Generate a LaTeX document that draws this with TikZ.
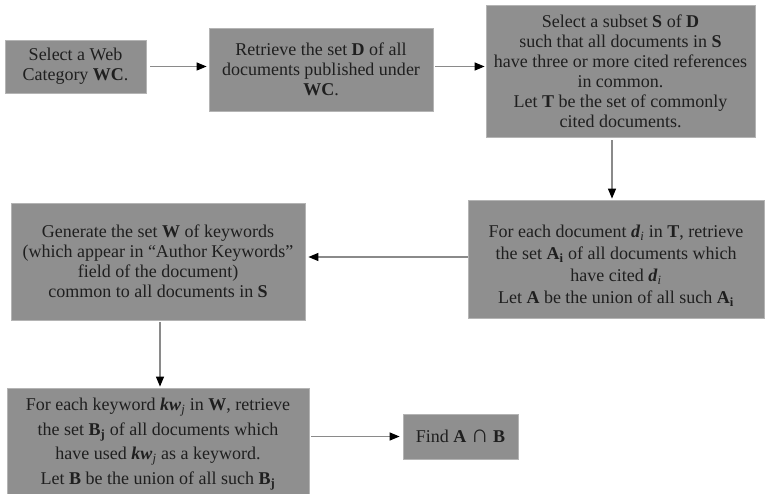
\documentclass[tikz,border=0pt]{standalone}
\usepackage{fontspec}
\setmainfont{Liberation Serif}
\usetikzlibrary{arrows.meta}
\definecolor{boxfill}{HTML}{8F8F8F}
\definecolor{boxline}{HTML}{B4B4B4}
\definecolor{arrowline}{HTML}{8A8A8A}
\newcommand{\lowidx}[1]{\textsubscript{#1}}
\tikzset{
  stepbox/.style={draw=boxline, line width=0.8pt, fill=boxfill, align=center,
    inner sep=0pt, text=black!88, font=\fontsize{18}{20}\selectfont},
  flow/.style={draw=arrowline, line width=1.2pt,
    -{Triangle[length=10pt,width=8pt,color=black]}}
}
\begin{document}
\begin{tikzpicture}[x=1pt,y=1pt]
\useasboundingbox (0,0) rectangle (765,-494);

\node[stepbox, minimum width=141pt, minimum height=53pt] (wc) at (75.5,-66.5)
  {Select a Web\\ Category \textbf{WC}.};
\node[stepbox, minimum width=224pt, minimum height=83pt] (setD) at (321,-69.5)
  {Retrieve the set \textbf{D} of all\\ documents published under\\ \textbf{WC}.};
\node[stepbox, minimum width=269pt, minimum height=132pt] (subS) at (620.5,-71)
  {Select a subset \textbf{S} of \textbf{D}\\ such that all documents in \textbf{S}\\
   have three or more cited references\\ in common.\\
   Let \textbf{T} be the set of commonly\\ cited documents.};
\node[stepbox, minimum width=296pt, minimum height=118pt,
      font=\fontsize{18}{22}\selectfont] (setA) at (616,-259)
  {\rule{0pt}{26pt}For each document \textbf{\textit{d}}\lowidx{\textit{i}} in \textbf{T}, retrieve\\
   the set \textbf{A}\lowidx{\textbf{i}} of all documents which\\
   have cited \textbf{\textit{d}}\lowidx{\textit{i}}\\
   Let \textbf{A} be the union of all such \textbf{A}\lowidx{\textbf{i}}};
\node[stepbox, minimum width=294pt, minimum height=117pt] (setW) at (158,-261.5)
  {Generate the set \textbf{W} of keywords\\
   (which appear in ``Author Keywords''\\
   field of the document)\\
   common to all documents in \textbf{S}};
\node[stepbox, minimum width=302pt, minimum height=112pt,
      font=\fontsize{18}{24.5}\selectfont] (setB) at (158,-444)
  {For each keyword \textbf{\textit{kw}}\lowidx{\textit{j}} in \textbf{W}, retrieve\\
   the set \textbf{B}\lowidx{\textbf{j}} of all documents which\\
   have used \textbf{\textit{kw}}\lowidx{\textit{j}} as a keyword.\\
   Let \textbf{B} be the union of all such \textbf{B}\lowidx{\textbf{j}}};
\node[stepbox, minimum width=115pt, minimum height=45pt] (meet) at (460.5,-436.5)
  {Find \textbf{A {\fontsize{25}{20}\selectfont ∩} B}};

\coordinate (down1) at (612,0);
\coordinate (down2) at (160,0);

\draw[flow, shorten <=4pt, shorten >=2pt] (wc.east) -- (setD.west |- wc.east);
\draw[flow, shorten <=2pt, shorten >=1pt] (setD.east |- wc.east) -- (subS.west |- wc.east);
\draw[flow, shorten <=3pt, shorten >=1pt] (subS.south -| down1) -- (setA.north -| down1);
\draw[flow, shorten >=3pt] (setA.west |- 0,-257) -- (setW.east |- 0,-257);
\draw[flow, shorten <=2pt, shorten >=1pt] (setW.south -| down2) -- (setB.north -| down2);
\draw[flow, shorten <=2pt, shorten >=3pt] (setB.east |- meet.west) -- (meet.west);
\end{tikzpicture}
\end{document}
